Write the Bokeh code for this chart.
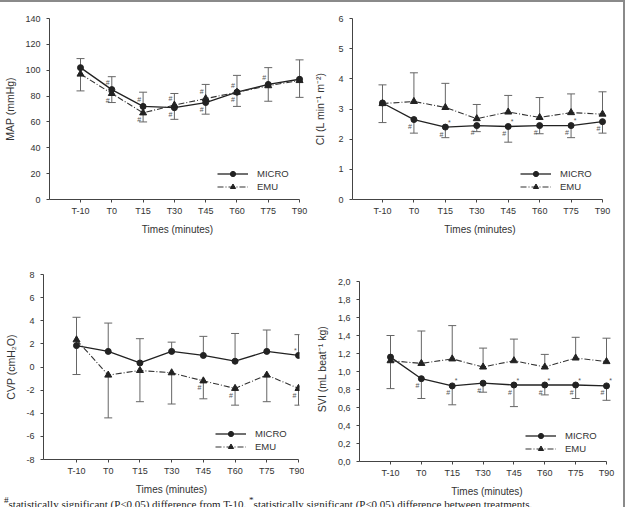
from bokeh.plotting import figure
from bokeh.models import (ColumnDataSource, Range1d, FixedTicker, Whisker, TeeHead,
                          Legend, LegendItem, Div)
from bokeh.layouts import column, row
from bokeh.core.properties import value
from bokeh.embed import file_html
from bokeh.resources import INLINE

# ---- data -------------------------------------------------------------
TIMES = ["T-10", "T0", "T15", "T30", "T45", "T60", "T75", "T90"]

MAP_MICRO = [102, 85, 72, 71, 75, 83, 89, 93]
MAP_MICRO_SD = [7, 10, 11, 11, 14, 13, 13, 15]
MAP_EMU = [97, 82, 67, 73, 78, 83, 88, 92]
MAP_EMU_SD = [13, 7, 7, 11, 12, 11, 12, 13]

CI_MICRO = [3.2, 2.65, 2.4, 2.45, 2.42, 2.45, 2.45, 2.58]
CI_MICRO_SD = [0.65, 0.45, 0.35, 0.2, 0.52, 0.27, 0.4, 0.38]
CI_EMU = [3.18, 3.25, 3.05, 2.68, 2.9, 2.72, 2.88, 2.83]
CI_EMU_SD = [0.62, 0.95, 0.8, 0.47, 0.55, 0.66, 0.62, 0.74]

CVP_MICRO = [1.85, 1.35, 0.35, 1.35, 1.0, 0.5, 1.35, 1.0]
CVP_MICRO_SD = [2.45, 2.45, 2.1, 0.8, 1.65, 2.4, 1.85, 1.8]
CVP_EMU = [2.35, -0.7, -0.3, -0.5, -1.2, -1.85, -0.7, -1.85]
CVP_EMU_SD = [3.0, 3.7, 2.7, 2.7, 1.55, 1.45, 2.3, 1.45]

SVI_MICRO = [1.16, 0.92, 0.84, 0.87, 0.85, 0.85, 0.85, 0.84]
SVI_MICRO_SD = [0.35, 0.22, 0.21, 0.10, 0.24, 0.11, 0.15, 0.16]
SVI_EMU = [1.12, 1.09, 1.14, 1.05, 1.12, 1.05, 1.15, 1.11]
SVI_EMU_SD = [0.28, 0.36, 0.37, 0.21, 0.24, 0.14, 0.23, 0.26]

# significance marks: (time, series, symbol)
MAP_MARKS = [("T0", "MICRO", "#"), ("T0", "EMU", "#"), ("T15", "MICRO", "#"), ("T15", "EMU", "#"),
             ("T30", "MICRO", "#"), ("T30", "EMU", "#"), ("T45", "MICRO", "#"), ("T45", "EMU", "#"),
             ("T60", "MICRO", "#"), ("T60", "EMU", "#"), ("T75", "MICRO", "#")]
CI_MARKS = [("T0", "MICRO", "#"), ("T15", "MICRO", "#"), ("T30", "MICRO", "#"), ("T45", "MICRO", "#"),
            ("T60", "MICRO", "#"), ("T75", "MICRO", "#"), ("T90", "MICRO", "#"),
            ("T15", "MICRO", "*"), ("T45", "MICRO", "*"), ("T75", "MICRO", "*")]
CVP_MARKS = [("T45", "EMU", "#"), ("T60", "EMU", "#"), ("T90", "EMU", "#"), ("T90", "MICRO", "*")]
SVI_MARKS = [("T0", "MICRO", "#"), ("T15", "MICRO", "#"), ("T30", "MICRO", "#"), ("T45", "MICRO", "#"),
             ("T60", "MICRO", "#"), ("T75", "MICRO", "#"), ("T90", "MICRO", "#"),
             ("T15", "MICRO", "*"), ("T45", "MICRO", "*"), ("T60", "MICRO", "*"),
             ("T75", "MICRO", "*"), ("T90", "MICRO", "*")]

MAP_TICKS = [0, 20, 40, 60, 80, 100, 120, 140]
CI_TICKS = [0, 1, 2, 3, 4, 5, 6]
CVP_TICKS = [-8, -6, -4, -2, 0, 2, 4, 6, 8]
SVI_TICKS = [0.0, 0.2, 0.4, 0.6, 0.8, 1.0, 1.2, 1.4, 1.6, 1.8, 2.0]

FONT = "Liberation Sans"
INK = "#222222"
AXIS = "#444444"
BAR = "#666666"


def panel(ylabel, ticks, tick_text, micro, micro_sd, micro_up, emu, emu_sd, marks,
          star_dx, borders, frame, xr, yr, label_standoff, legend_xy, nudge):
    bl, br, bt, bb = borders
    fw, fh = frame
    xs = list(range(len(TIMES)))
    p = figure(frame_width=fw, frame_height=fh, min_border_left=bl, min_border_right=br,
               min_border_top=bt, min_border_bottom=bb, x_range=Range1d(*xr),
               y_range=Range1d(*yr), output_backend="svg", toolbar_location=None,
               background_fill_color=None, border_fill_color=None,
               styles={"position": "relative", "left": f"{nudge[0]}px",
                       "top": f"{nudge[1]}px"})
    p.outline_line_color = None
    p.grid.visible = False

    for ax in (p.xaxis[0], p.yaxis[0]):
        ax.axis_line_color = AXIS
        ax.major_tick_line_color = AXIS
        ax.minor_tick_line_color = None
        ax.major_tick_in = 0
        ax.major_tick_out = 3
        ax.major_label_text_font = FONT
        ax.major_label_text_font_size = "9px"
        ax.major_label_text_color = "#333333"
        ax.axis_label_text_font = FONT
        ax.axis_label_text_font_style = "normal"
        ax.axis_label_text_color = "#333333"

    # x axis: the time points, line running from the y axis to the last time
    p.xaxis.ticker = FixedTicker(ticks=xs)
    p.xaxis.major_label_overrides = {i: t for i, t in enumerate(TIMES)}
    p.xaxis.major_label_standoff = 3
    p.xaxis.axis_label = "Times (minutes)"
    p.xaxis.axis_label_text_font_size = "10px"
    p.xaxis.axis_label_standoff = 5
    p.xaxis.bounds = (xr[0], xs[-1])

    p.yaxis.ticker = FixedTicker(ticks=ticks)
    p.yaxis.major_label_overrides = {t: s for t, s in zip(ticks, tick_text)}
    p.yaxis.major_label_standoff = 6
    p.yaxis.axis_label = ylabel
    p.yaxis.axis_label_text_font_size = "10.5px"
    p.yaxis.axis_label_standoff = label_standoff
    p.yaxis.bounds = (ticks[0], ticks[-1])

    # error bars: one side per series
    if micro_up:
        m_lo, m_hi = micro, [v + s for v, s in zip(micro, micro_sd)]
        e_lo, e_hi = [v - s for v, s in zip(emu, emu_sd)], emu
    else:
        m_lo, m_hi = [v - s for v, s in zip(micro, micro_sd)], micro
        e_lo, e_hi = emu, [v + s for v, s in zip(emu, emu_sd)]
    for lo, hi, cap_top in ((m_lo, m_hi, micro_up), (e_lo, e_hi, not micro_up)):
        src = ColumnDataSource(dict(x=xs, lo=lo, hi=hi))
        cap = TeeHead(size=8, line_color=BAR, line_width=1)
        w = Whisker(base="x", lower="lo", upper="hi", source=src, line_color=BAR,
                    line_width=1,
                    upper_head=cap if cap_top else None,
                    lower_head=None if cap_top else cap,
                    level="underlay")
        p.add_layout(w)

    lm = p.line(xs, micro, line_color=INK, line_width=1.3)
    sm = p.scatter(xs, micro, marker="circle", size=6, fill_color=INK, line_color=INK)
    le = p.line(xs, emu, line_color="#333333", line_width=1.1, line_dash="6 2 1 2")
    se = p.scatter(xs, emu, marker="triangle", size=7, fill_color=INK, line_color=INK)

    # significance symbols beside the points
    mx, my, mt, dx, dy = [], [], [], [], []
    for t, ser, sym in marks:
        i = TIMES.index(t)
        own = micro if ser == "MICRO" else emu
        other = emu if ser == "MICRO" else micro
        higher = own[i] > other[i] or (own[i] == other[i] and ser == "MICRO")
        mx.append(i)
        my.append(own[i])
        mt.append(sym)
        if sym == "*":
            dx.append(star_dx)
            dy.append(-5)
        else:
            dx.append(-4)
            dy.append(-7 if higher else 7)
    p.text(x=mx, y=my, text=mt, x_offset=dx, y_offset=dy, text_align="center",
           text_baseline="middle", text_font=value(FONT), text_font_size="7px",
           text_color="#555555")

    leg = Legend(items=[LegendItem(label="MICRO", renderers=[lm, sm]),
                        LegendItem(label="EMU", renderers=[le, se])],
                 location=legend_xy, orientation="vertical", padding=0, margin=0,
                 spacing=0, glyph_width=31, glyph_height=13, label_height=13,
                 label_standoff=9, label_text_font=FONT, label_text_font_size="9.5px",
                 label_text_color="#333333", border_line_color=None,
                 background_fill_alpha=0)
    p.add_layout(leg)
    return p


# borders are shared along each grid row / column; small CSS nudges place each panel
p1 = panel("MAP (mmHg)", MAP_TICKS, [str(t) for t in MAP_TICKS],
           MAP_MICRO, MAP_MICRO_SD, True, MAP_EMU, MAP_EMU_SD, MAP_MARKS, 4,
           (49, 5, 16, 51), (256, 181), (-0.991, 7.19), (0, 140), 6, (168, 6), (0, 0))
p2 = panel("CI (L min\u207b\u00b9 m\u207b\u00b2)", CI_TICKS, [str(t) for t in CI_TICKS],
           CI_MICRO, CI_MICRO_SD, False, CI_EMU, CI_EMU_SD, CI_MARKS, 4,
           (49, 9, 16, 51), (255, 181), (-0.954, 7.159), (0, 6), 9, (168, 6), (-7, 0))
p3 = panel("CVP (cmH\u2082O)", CVP_TICKS, [str(t) for t in CVP_TICKS],
           CVP_MICRO, CVP_MICRO_SD, True, CVP_EMU, CVP_EMU_SD, CVP_MARKS, -3,
           (49, 5, 24, 36), (256, 185), (-1.041, 7.032), (-8, 8), 6, (172, 6), (-6, 0))
p4 = panel("SVI (mL beat\u207b\u00b9 kg)", SVI_TICKS, [f"{t:.1f}".replace(".", ",") for t in SVI_TICKS],
           SVI_MICRO, SVI_MICRO_SD, False, SVI_EMU, SVI_EMU_SD, SVI_MARKS, 4,
           (49, 9, 24, 36), (255, 185), (-1.005, 7.259), (0, 2.0556), 7, (166, 6), (0, 2))

note = Div(text="<sup>#</sup>statistically significant (P\u22640.05) difference from T-10. "
                "<sup>*</sup>statistically significant (P\u22640.05) difference between treatments.",
           width=623, height=10, margin=0,
           styles={"font-family": "Liberation Serif", "font-size": "11px", "color": "#222",
                   "line-height": "10px", "padding-left": "4px", "overflow": "visible",
                   "white-space": "nowrap", "position": "relative", "top": "-2px"})

page = column(row(p1, p2, spacing=0), row(p3, p4, spacing=0), note, spacing=0,
              styles={"border-top": "2px solid #8a8a8a", "border-right": "2px solid #8a8a8a",
                      "background-color": "white"})

open("out.html", "w").write(file_html(page, INLINE))
